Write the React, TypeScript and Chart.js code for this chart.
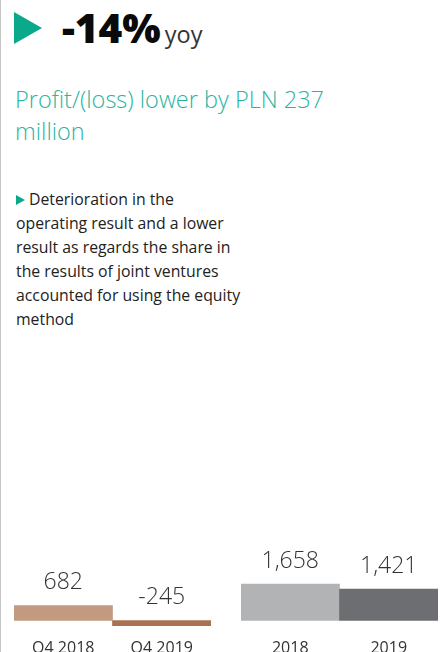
import React, { useEffect, useRef } from "react";
import { Chart, registerables } from "chart.js";

Chart.register(...registerables);

const quarterLabels = ["Q4 2018", "Q4 2019"];
const quarterValues = [682, -245];
const quarterColors = ["#c19a80", "#a97352"];

const yearLabels = ["2018", "2019"];
const yearValues = [1658, 1421];
const yearColors = ["#b1b3b5", "#6d6e71"];

const formatValue = (v: number) => v.toLocaleString("en-US");

const valueLabelPlugin = {
  id: "valueLabels",
  afterDatasetsDraw(chart: any) {
    const ctx = chart.ctx;
    const ds = chart.data.datasets[0];
    const meta = chart.getDatasetMeta(0);
    ctx.save();
    ctx.font = "300 23px 'Open Sans'";
    ctx.fillStyle = "#333333";
    ctx.textAlign = "center";
    ctx.textBaseline = "alphabetic";
    meta.data.forEach((el: any, i: number) => {
      const v = ds.data[i] as number;
      const top = v >= 0 ? el.y : el.base;
      ctx.fillText(formatValue(v), el.x, top - 16);
    });
    ctx.restore();
  },
};

function BarPair({ labels, values, colors }: { labels: string[]; values: number[]; colors: string[] }) {
  const ref = useRef<HTMLCanvasElement>(null);
  useEffect(() => {
    if (!ref.current) return;
    const chart = new Chart(ref.current, {
      type: "bar",
      data: {
        labels,
        datasets: [
          {
            data: values,
            backgroundColor: colors,
            borderWidth: 0,
            barPercentage: 1,
            categoryPercentage: 1,
          },
        ],
      },
      options: {
        animation: false,
        responsive: false,
        maintainAspectRatio: false,
        layout: { padding: 0 },
        plugins: { legend: { display: false }, tooltip: { enabled: false } },
        scales: {
          x: {
            grid: { display: false, drawTicks: false },
            border: { display: false },
            ticks: {
              padding: 13,
              color: "#333333",
              font: { family: "'Open Sans'", size: 16 },
              maxRotation: 0,
              autoSkip: false,
            },
            afterFit: (scale: any) => {
              scale.height = 26;
            },
          },
          y: {
            display: false,
            min: -250,
            max: 3655,
          },
        },
      },
      plugins: [valueLabelPlugin],
    });
    return () => chart.destroy();
  }, []);
  return <canvas ref={ref} width={197} height={112} style={{ display: "block", width: 197, height: 112 }} />;
}

export default function App() {
  const font = "'Open Sans', sans-serif";
  return (
    <div
      style={{
        position: "absolute",
        left: 0,
        top: 0,
        width: 440,
        height: 652,
        overflow: "hidden",
        background: "#ffffff",
        fontFamily: font,
      }}
    >
      <div style={{ position: "absolute", left: 0, top: 0, width: 1, height: 652, background: "#c4c4c4" }} />
      <div
        style={{
          position: "absolute",
          left: 14,
          top: 12,
          width: 0,
          height: 0,
          borderTop: "16px solid transparent",
          borderBottom: "16px solid transparent",
          borderLeft: "28px solid #0aa98b",
        }}
      />
      <div style={{ position: "absolute", left: 62, top: 0, whiteSpace: "nowrap", lineHeight: "normal" }}>
        <span style={{ fontSize: 40.5, fontWeight: 800, color: "#0a0a0a", paddingRight: 2 }}>-14%</span>
        <span style={{ fontSize: 23.5, fontWeight: 400, color: "#333333", marginLeft: 2 }}>yoy</span>
      </div>
      <div
        style={{
          position: "absolute",
          left: 15,
          top: 83,
          fontSize: 23.5,
          fontWeight: 300,
          lineHeight: "32px",
          color: "#2ab59f",
          whiteSpace: "nowrap",
        }}
      >
        Profit/(loss) lower by PLN 237
        <br />
        million
      </div>
      <div
        style={{
          position: "absolute",
          left: 16,
          top: 187,
          fontSize: 15.8,
          fontWeight: 400,
          lineHeight: "24px",
          color: "#222222",
          whiteSpace: "nowrap",
        }}
      >
        <span
          style={{
            display: "inline-block",
            width: 0,
            height: 0,
            borderTop: "5px solid transparent",
            borderBottom: "5px solid transparent",
            borderLeft: "9px solid #0aa98b",
            marginRight: 4,
            verticalAlign: "0px",
          }}
        />
        Deterioration in the
        <br />
        operating result and a lower
        <br />
        result as regards the share in
        <br />
        the results of joint ventures
        <br />
        accounted for using the equity
        <br />
        method
      </div>
      <div style={{ position: "absolute", left: 14, top: 540 }}>
        <BarPair labels={quarterLabels} values={quarterValues} colors={quarterColors} />
      </div>
      <div style={{ position: "absolute", left: 241, top: 540 }}>
        <BarPair labels={yearLabels} values={yearValues} colors={yearColors} />
      </div>
    </div>
  );
}
